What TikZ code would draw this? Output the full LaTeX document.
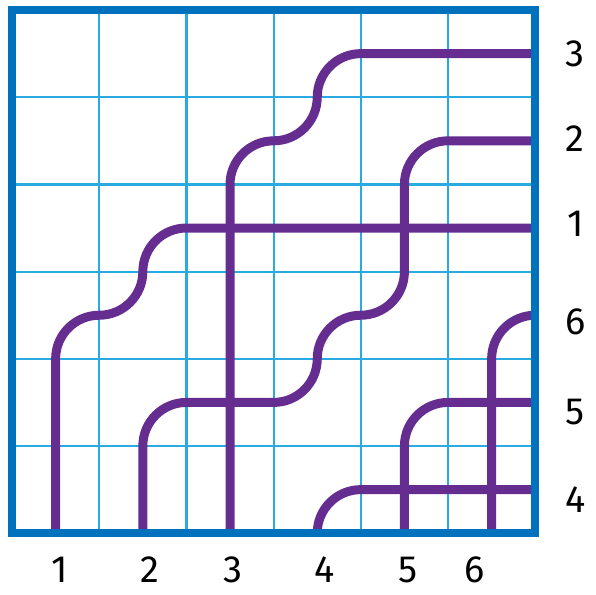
\documentclass[tikz,border=0pt]{standalone}
\usepackage{fontspec}
\setmainfont{Fira Sans}
\begin{document}
\begin{tikzpicture}[
    x=3.07cm, y=3.07cm,
    gridline/.style={draw=GridBlue, line width=2.2pt},
    frame/.style={draw=FrameBlue, line width=8.5pt},
    pipe/.style={draw=PipePurple, line width=9pt},
    wirenum/.style={font=\fontsize{38}{38}\selectfont, inner sep=0pt},
]
    \definecolor{GridBlue}{RGB}{41,171,226}
    \definecolor{FrameBlue}{RGB}{0,113,188}
    \definecolor{PipePurple}{RGB}{102,45,145}

    \useasboundingbox (-0.138,-0.70) rectangle (6.697,6.115);

    % Grid
    \foreach \k in {1,...,5} {
        \draw[gridline] (\k,0) -- (\k,6);
        \draw[gridline] (0,\k) -- (6,\k);
    }

    % Pipe ends on the frame
    \foreach \n in {1,...,6}
        \coordinate (b\n) at (\n-0.5,0);
    \foreach \n/\y in {3/5.5, 2/4.5, 1/3.5, 6/2.5, 5/1.5, 4/0.5}
        \coordinate (r\n) at (6,\y);

    % Pipes
    \draw[pipe] (b1) -- ++(0,2)
        arc[start angle=180, end angle=90, radius=0.5]
        arc[start angle=270, end angle=360, radius=0.5]
        arc[start angle=180, end angle=90, radius=0.5] -- (r1);
    \draw[pipe] (b2) -- ++(0,1)
        arc[start angle=180, end angle=90, radius=0.5] -- ++(1,0)
        arc[start angle=270, end angle=360, radius=0.5]
        arc[start angle=180, end angle=90, radius=0.5]
        arc[start angle=270, end angle=360, radius=0.5] -- ++(0,1)
        arc[start angle=180, end angle=90, radius=0.5] -- (r2);
    \draw[pipe] (b3) -- ++(0,4)
        arc[start angle=180, end angle=90, radius=0.5]
        arc[start angle=270, end angle=360, radius=0.5]
        arc[start angle=180, end angle=90, radius=0.5] -- (r3);
    \draw[pipe] (b4)
        arc[start angle=180, end angle=90, radius=0.5] -- (r4);
    \draw[pipe] (b5) -- ++(0,1)
        arc[start angle=180, end angle=90, radius=0.5] -- (r5);
    \draw[pipe] (b6) -- ++(0,2)
        arc[start angle=180, end angle=90, radius=0.5] -- (r6);

    % Frame
    \draw[frame] (0,0) rectangle (6,6);

    % Numbers
    \foreach \n/\x in {1/0.55, 2/1.58, 3/2.53, 4/3.59, 5/4.54, 6/5.31}
        \node[wirenum] (in\n) at (\x,-0.42) {\n};
    \foreach \n/\y in {3/5.5, 2/4.52, 1/3.55, 6/2.42, 5/1.39, 4/0.38}
        \node[wirenum] (out\n) at (6.46,\y) {\n};
\end{tikzpicture}
\end{document}
